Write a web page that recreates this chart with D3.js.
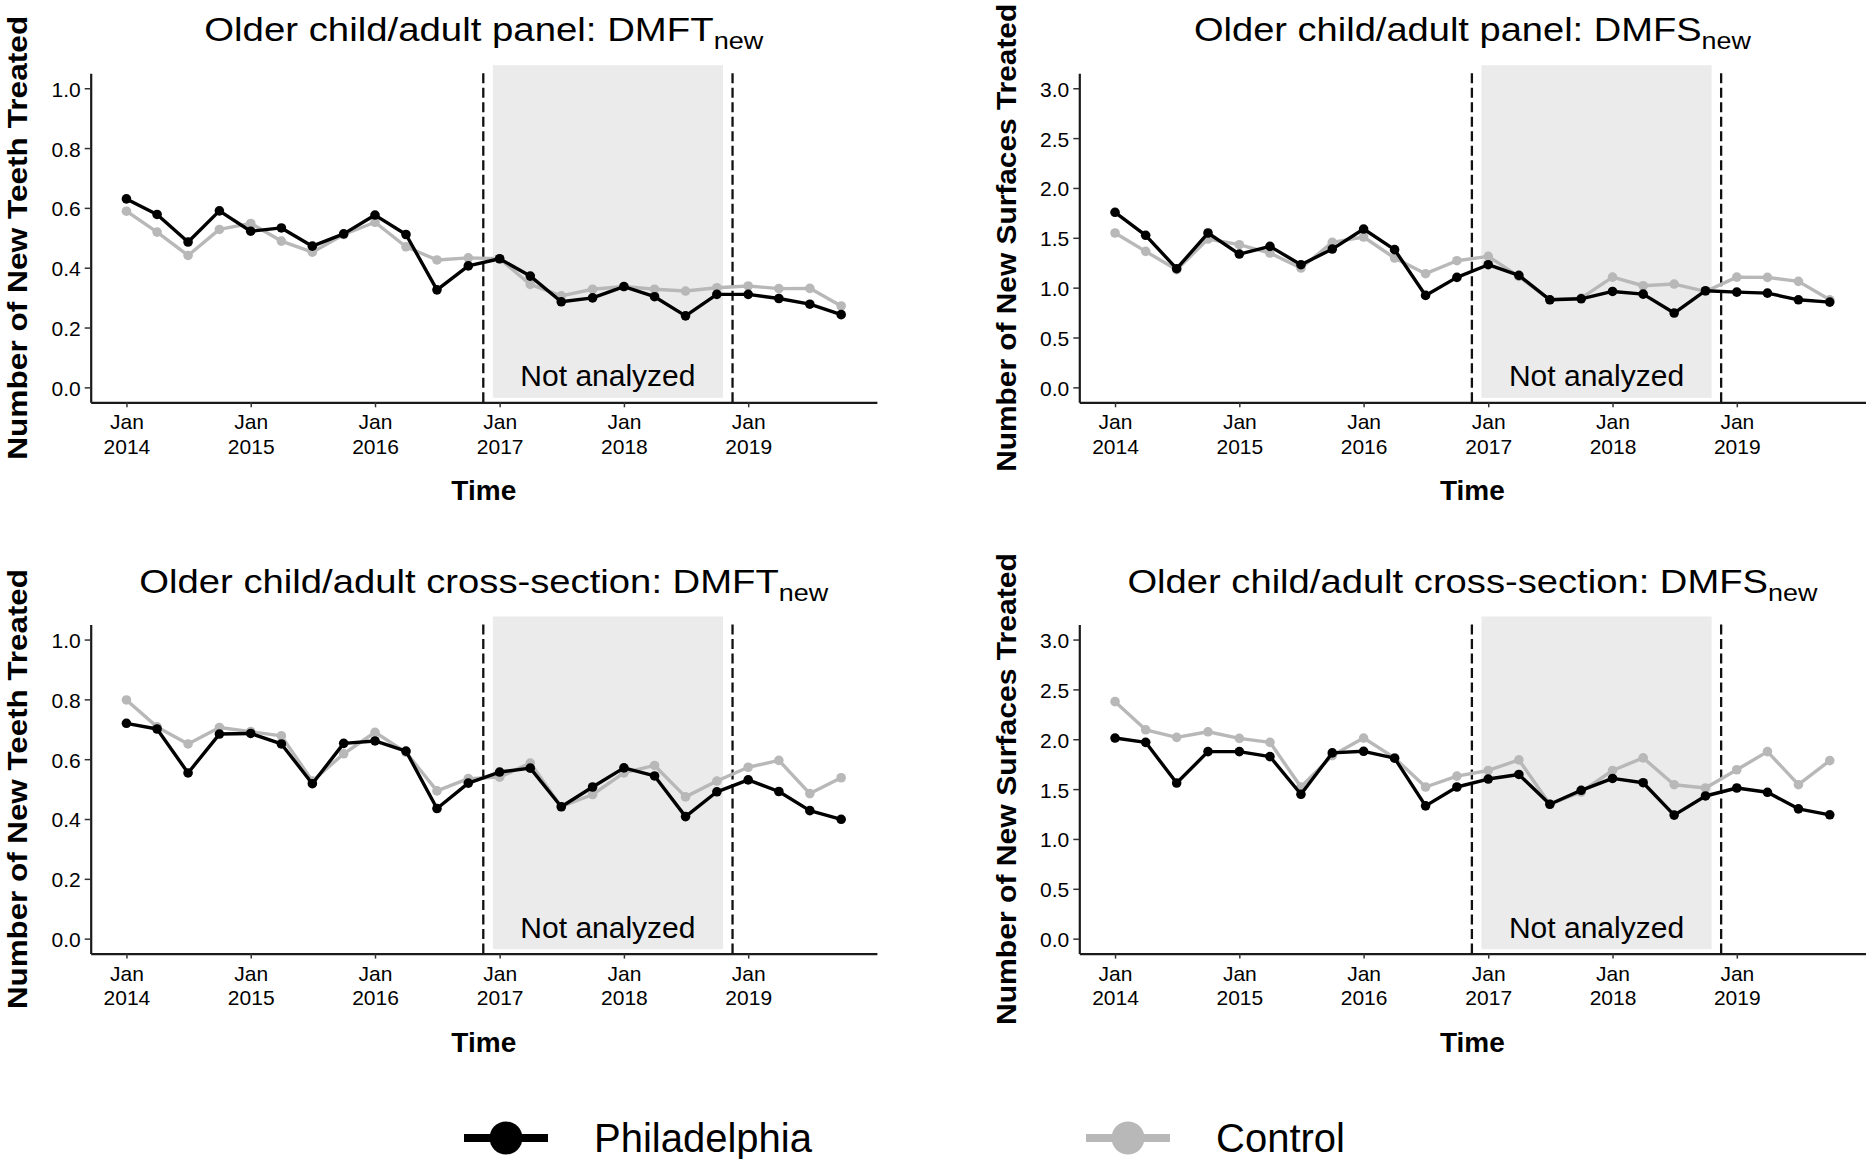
<!DOCTYPE html>
<html>
<head>
<meta charset="utf-8">
<script src="https://cdn.jsdelivr.net/npm/d3@7"></script>
<style>
  body { margin: 0; background: #fff; }
  svg text { font-family: "Liberation Sans", Arial, sans-serif; }
</style>
</head>
<body>
<div id="vis"></div>
<script>
// quarterly time points
const quarters = [
  '2014-01-01', '2014-04-01', '2014-07-01', '2014-10-01',
  '2015-01-01', '2015-04-01', '2015-07-01', '2015-10-01',
  '2016-01-01', '2016-04-01', '2016-07-01', '2016-10-01',
  '2017-01-01', '2017-04-01', '2017-07-01', '2017-10-01',
  '2018-01-01', '2018-04-01', '2018-07-01', '2018-10-01',
  '2019-01-01', '2019-04-01', '2019-07-01', '2019-10-01'
];
const yearTicks = [2014, 2015, 2016, 2017, 2018, 2019];
const dmftTicks = [0, 0.2, 0.4, 0.6, 0.8, 1.0];
const dmfsTicks = [0, 0.5, 1.0, 1.5, 2.0, 2.5, 3.0];

// cut-off dates and the "not analyzed" window
const cutoffDates = ['2016-11-14', '2018-11-16'];
const shadeStart = '2016-12-12';
const shadeEnd = '2018-10-19';

const dmftPanelPhila = [0.630, 0.578, 0.486, 0.590, 0.522, 0.533, 0.472, 0.513, 0.576, 0.511, 0.326, 0.406,
  0.430, 0.372, 0.286, 0.299, 0.337, 0.303, 0.239, 0.311, 0.311, 0.297, 0.278, 0.243];
const dmftPanelControl = [0.589, 0.519, 0.441, 0.528, 0.548, 0.489, 0.452, 0.511, 0.552, 0.470, 0.426, 0.433,
  0.430, 0.344, 0.306, 0.328, 0.337, 0.328, 0.322, 0.333, 0.339, 0.330, 0.331, 0.272];

const dmfsPanelPhila = [1.756, 1.525, 1.190, 1.548, 1.337, 1.414, 1.230, 1.387, 1.588, 1.381, 0.922, 1.103,
  1.230, 1.123, 0.878, 0.888, 0.962, 0.935, 0.745, 0.969, 0.955, 0.945, 0.878, 0.855];
const dmfsPanelControl = [1.548, 1.364, 1.180, 1.488, 1.431, 1.347, 1.197, 1.454, 1.508, 1.297, 1.140, 1.270,
  1.314, 1.113, 0.878, 0.895, 1.106, 1.019, 1.036, 0.962, 1.106, 1.103, 1.063, 0.878];

const dmftCrossPhila = [0.720, 0.701, 0.554, 0.684, 0.686, 0.651, 0.518, 0.653, 0.661, 0.627, 0.435, 0.520,
  0.557, 0.570, 0.441, 0.507, 0.571, 0.544, 0.408, 0.491, 0.531, 0.492, 0.428, 0.399];
const dmftCrossControl = [0.798, 0.708, 0.651, 0.706, 0.692, 0.678, 0.527, 0.618, 0.690, 0.623, 0.494, 0.535,
  0.540, 0.587, 0.441, 0.482, 0.554, 0.579, 0.474, 0.527, 0.573, 0.596, 0.485, 0.538];

const dmfsCrossPhila = [2.012, 1.969, 1.561, 1.876, 1.876, 1.826, 1.448, 1.863, 1.879, 1.810, 1.332, 1.521,
  1.601, 1.647, 1.348, 1.488, 1.607, 1.564, 1.239, 1.431, 1.511, 1.468, 1.302, 1.242];
const dmfsCrossControl = [2.377, 2.095, 2.019, 2.075, 2.009, 1.969, 1.521, 1.836, 2.012, 1.813, 1.521, 1.630,
  1.687, 1.793, 1.348, 1.471, 1.687, 1.813, 1.544, 1.511, 1.694, 1.876, 1.544, 1.786];

const phillyColor = '#000000';
const controlColor = '#b8b8b8';

const parse = d3.timeParse('%Y-%m-%d');
const dates = quarters.map(parse);

let width = 1866, height = 1159;
let svg = d3.select('#vis')
  .append('svg')
  .attr('width', width)
  .attr('height', height)
  .style('background-color', 'white');

// panel size
const pw = 786.2, ph = 329;

// ggplot-like 5% expansion on the date axis
const span = dates[dates.length - 1] - dates[0];
const xDomain = [new Date(+dates[0] - 0.05 * span), new Date(+dates[dates.length - 1] + 0.05 * span)];

const panels = [
  { title: 'Older child/adult panel: DMFT', ylab: 'Number of New Teeth Treated', phila: dmftPanelPhila,
    control: dmftPanelControl, ticks: dmftTicks, ymax: 1, left: 90.7, top: 73.3, titleW: 560, ylabLen: 444 },
  { title: 'Older child/adult panel: DMFS', ylab: 'Number of New Surfaces Treated', phila: dmfsPanelPhila,
    control: dmfsPanelControl, ticks: dmfsTicks, ymax: 3, left: 1079.3, top: 73.3, titleW: 558, ylabLen: 468 },
  { title: 'Older child/adult cross-section: DMFT', ylab: 'Number of New Teeth Treated', phila: dmftCrossPhila,
    control: dmftCrossControl, ticks: dmftTicks, ymax: 1, left: 90.7, top: 624.6, titleW: 690, ylabLen: 440 },
  { title: 'Older child/adult cross-section: DMFS', ylab: 'Number of New Surfaces Treated', phila: dmfsCrossPhila,
    control: dmfsCrossControl, ticks: dmfsTicks, ymax: 3, left: 1079.3, top: 624.6, titleW: 691, ylabLen: 472 }
];

panels.forEach(drawPanel);

function drawPanel(p) {
  let g = svg.append('g').attr('transform', `translate(${p.left},${p.top})`);

  let x = d3.scaleTime().domain(xDomain).range([0, pw]);
  let y = d3.scaleLinear().domain([-0.05 * p.ymax, 1.05 * p.ymax]).range([ph, 0]);

  // grey "not analyzed" box
  let x0 = x(parse(shadeStart)), x1 = x(parse(shadeEnd));
  g.append('rect')
    .attr('x', x0)
    .attr('width', x1 - x0)
    .attr('y', y(1.077 * p.ymax))
    .attr('height', y(-0.035 * p.ymax) - y(1.077 * p.ymax))
    .attr('fill', '#ebebeb');

  g.append('text')
    .attr('x', (x0 + x1) / 2)
    .attr('y', y(0) - 1)
    .attr('text-anchor', 'middle')
    .attr('font-size', 30)
    .attr('fill', '#000')
    .text('Not analyzed');

  // dashed cut-off lines
  g.selectAll('.cut')
    .data(cutoffDates)
    .enter()
    .append('line')
    .attr('x1', d => x(parse(d)))
    .attr('x2', d => x(parse(d)))
    .attr('y1', 0)
    .attr('y2', ph)
    .attr('stroke', '#111')
    .attr('stroke-width', 2.3)
    .attr('stroke-dasharray', '10,4.5');

  // series: control first so Philadelphia sits on top
  let line = d3.line()
    .x((d, i) => x(dates[i]))
    .y(d => y(d));

  [[p.control, controlColor], [p.phila, phillyColor]].forEach(([vals, col]) => {
    g.append('path')
      .datum(vals)
      .attr('d', line)
      .attr('fill', 'none')
      .attr('stroke', col)
      .attr('stroke-width', 3.4)
      .attr('stroke-linejoin', 'round');
    g.selectAll(null)
      .data(vals)
      .enter()
      .append('circle')
      .attr('cx', (d, i) => x(dates[i]))
      .attr('cy', d => y(d))
      .attr('r', 4.8)
      .attr('fill', col);
  });

  // x axis
  let gx = g.append('g')
    .attr('transform', `translate(0,${ph})`)
    .call(d3.axisBottom(x)
      .tickValues(yearTicks.map(yr => new Date(yr, 0, 1)))
      .tickSize(5)
      .tickSizeOuter(0)
      .tickFormat(''));
  gx.attr('font-size', 21);
  gx.select('.domain').attr('stroke', '#1a1a1a').attr('stroke-width', 2.2);
  gx.selectAll('.tick line').attr('stroke', '#333').attr('stroke-width', 1.5);
  gx.selectAll('.tick text').each(function(d) {
    let t = d3.select(this).attr('fill', '#000').attr('dy', null).attr('y', null);
    t.append('tspan').attr('x', 0).attr('y', 27).text('Jan');
    t.append('tspan').attr('x', 0).attr('y', 51.5).text(d.getFullYear());
  });

  // y axis
  let gy = g.append('g')
    .call(d3.axisLeft(y)
      .tickValues(p.ticks)
      .tickFormat(d3.format('.1f'))
      .tickSize(6)
      .tickPadding(4)
      .tickSizeOuter(0));
  gy.attr('font-size', 21);
  gy.select('.domain').attr('stroke', '#1a1a1a').attr('stroke-width', 2.2);
  gy.selectAll('.tick line').attr('stroke', '#333').attr('stroke-width', 1.5);
  gy.selectAll('.tick text').attr('fill', '#000').attr('dy', '0.38em');

  // axis titles
  g.append('text')
    .attr('x', pw / 2)
    .attr('y', ph + 98)
    .attr('text-anchor', 'middle')
    .attr('font-size', 28)
    .attr('font-weight', 'bold')
    .text('Time');

  g.append('text')
    .attr('transform', `translate(-63.7,${ph / 2}) rotate(-90)`)
    .attr('text-anchor', 'middle')
    .attr('font-size', 28)
    .attr('font-weight', 'bold')
    .attr('textLength', p.ylabLen)
    .attr('lengthAdjust', 'spacingAndGlyphs')
    .text(p.ylab);

  // panel title with subscript, stretched to the width seen in the figure
  let title = g.append('text')
    .attr('text-anchor', 'middle')
    .attr('font-size', 34)
    .attr('fill', '#000');
  title.append('tspan').text(p.title);
  title.append('tspan').attr('font-size', 24).attr('dy', 8).text('new');
  let tw = title.node().getBBox().width;
  title.attr('transform', `translate(${pw / 2},-32) scale(${p.titleW / tw},1)`);
}

// legend
const legendItems = [
  { label: 'Philadelphia', color: phillyColor, x: 464 },
  { label: 'Control', color: controlColor, x: 1086 }
];

let legend = svg.append('g').attr('transform', 'translate(0,1138)');
let items = legend.selectAll('g')
  .data(legendItems)
  .enter()
  .append('g')
  .attr('transform', d => `translate(${d.x},0)`);

items.append('line')
  .attr('x1', 0).attr('x2', 84)
  .attr('y1', 0).attr('y2', 0)
  .attr('stroke', d => d.color)
  .attr('stroke-width', 8);

items.append('circle')
  .attr('cx', 42).attr('cy', 0)
  .attr('r', 16.5)
  .attr('fill', d => d.color);

items.append('text')
  .attr('x', 130)
  .attr('y', 14)
  .attr('font-size', 40)
  .attr('fill', '#000')
  .text(d => d.label);
</script>
</body>
</html>
